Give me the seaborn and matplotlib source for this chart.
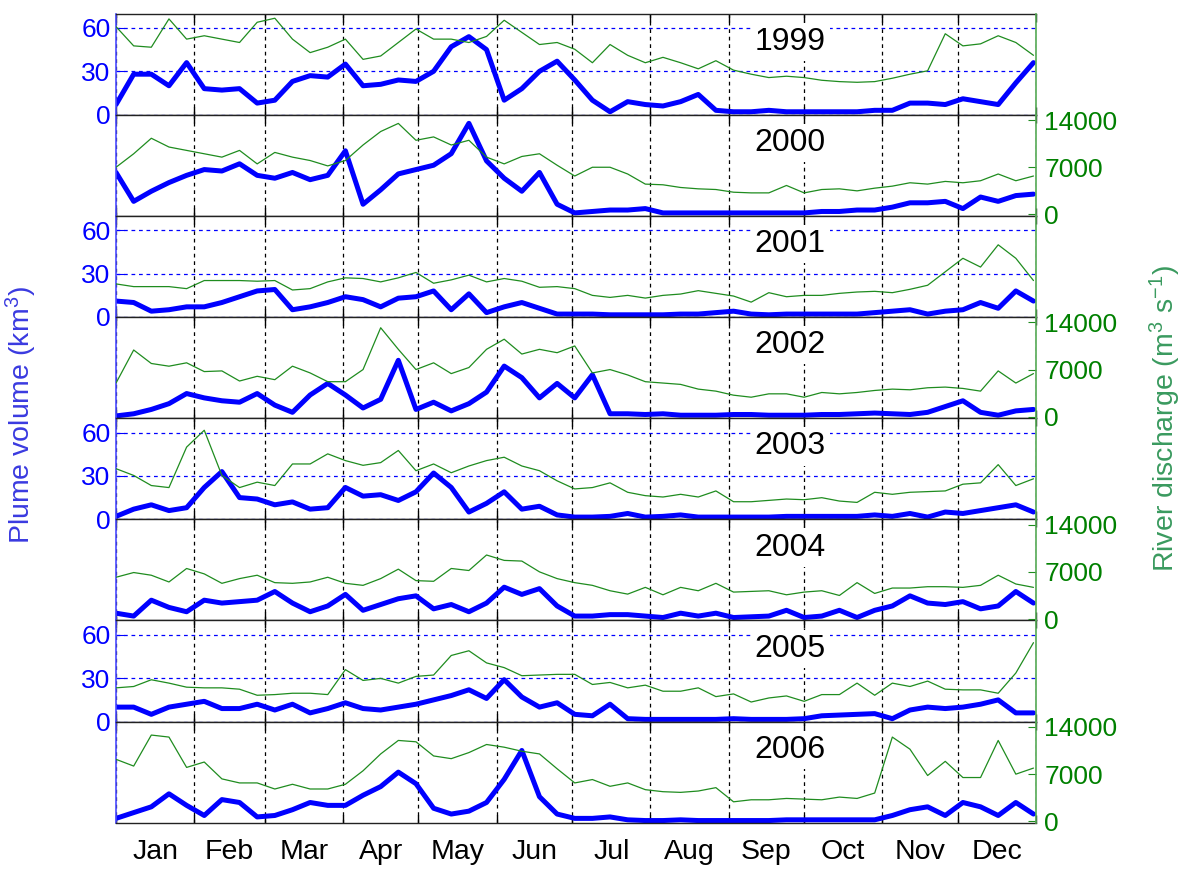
import numpy as np
import pandas as pd
import matplotlib
matplotlib.use("Agg")
import matplotlib.pyplot as plt
import seaborn as sns

# weekly samples, day of year
days = np.arange(0, 365, 7)

years = [1999, 2000, 2001, 2002, 2003, 2004, 2005, 2006]
months = ['Jan', 'Feb', 'Mar', 'Apr', 'May', 'Jun',
          'Jul', 'Aug', 'Sep', 'Oct', 'Nov', 'Dec']
month_start = [0, 31, 59, 90, 120, 151, 181, 212, 243, 273, 304, 334, 365]

# plume volume (km3)
plume_1999 = [7, 28, 28, 20, 36, 18, 17, 18, 8, 10, 23, 27, 26, 35, 20, 21, 24, 23, 30, 47,
              54, 45, 10, 18, 30, 37, 24, 10, 2, 9, 7, 6, 9, 14, 3, 2, 2, 3, 2, 2,
              2, 2, 2, 3, 3, 8, 8, 7, 11, 9, 7, 22, 36]
plume_2000 = [30, 10, 17, 23, 28, 32, 31, 36, 28, 26, 30, 25, 28, 45, 8, 18, 29, 32, 35, 43,
              64, 38, 26, 17, 30, 8, 2, 3, 4, 4, 5, 2, 2, 2, 2, 2, 2, 2, 2, 2,
              3, 3, 4, 4, 6, 9, 9, 10, 5, 13, 10, 14, 15]
plume_2001 = [11, 10, 4, 5, 7, 7, 10, 14, 18, 19, 5, 7, 10, 14, 12, 7, 13, 14, 18, 5,
              16, 3, 7, 10, 6, 2, 2, 2, 1.5, 1.5, 1.5, 1.5, 2, 2, 3, 4, 2, 1.5, 2, 2,
              2, 2, 2, 3, 4, 5, 2, 4, 5, 10, 6, 18, 11]
plume_2002 = [1.5, 3, 6, 10, 17, 14, 12, 11, 17, 9, 4, 16, 24, 16, 7, 13, 40, 6, 11, 5,
              10, 18, 36, 28, 14, 24, 14, 30, 3, 3, 2.5, 3, 2, 2, 2, 2.5, 2.5, 2, 2, 2,
              2.5, 2.5, 3, 3.5, 3, 2.5, 4, 8, 12, 4, 2, 5, 6]
plume_2003 = [2, 7, 10, 6, 8, 22, 33, 15, 14, 10, 12, 7, 8, 22, 16, 17, 13, 19, 32, 22,
              5, 11, 19, 7, 9, 3, 1.5, 1.5, 2, 4, 1.5, 2, 3, 1.5, 1.5, 1.5, 1.5, 1.5, 2, 2,
              2, 2, 2, 3, 2, 4, 1.5, 5, 4, 6, 8, 10, 5]
plume_2004 = [5, 3, 14, 9, 6, 14, 12, 13, 14, 20, 12, 6, 10, 18, 7, 11, 15, 17, 8, 11,
              6, 12, 23, 18, 22, 10, 3, 3, 4, 4, 3, 2, 5, 3, 5, 2, 2.5, 3, 7, 2,
              3, 7, 2, 7, 10, 17, 12, 11, 13, 8, 10, 20, 12]
plume_2005 = [10, 10, 5, 10, 12, 14, 9, 9, 12, 8, 12, 6, 9, 13, 9, 8, 10, 12, 15, 18,
              22, 16, 29, 17, 10, 13, 5, 4, 12, 2, 1.5, 1.5, 1.5, 1.5, 1.5, 2, 1.5, 1.5, 1.5, 2,
              4, 4.5, 5, 5.5, 2, 8, 10, 9, 10, 12, 15, 6, 6]
plume_2006 = [3, 7, 11, 20, 12, 5, 16, 14, 4, 5, 9, 14, 12, 12, 19, 25, 35, 27, 10, 6,
              8, 14, 30, 50, 18, 6, 3, 3, 4, 2, 1.5, 1.5, 2, 1.5, 1.5, 1.5, 1.5, 1.5, 2, 2,
              2, 2, 2, 2, 5, 9, 11, 5, 14, 11, 5, 14, 6]

# river discharge (m3/s)
flow_1999 = [12850, 10000, 9800, 14000, 11000, 11500, 11000, 10500, 13500, 14100,
             11000, 9000, 9800, 11000, 8000, 8500, 10500, 12500, 11000, 11000,
             10500, 11400, 13800, 12000, 10200, 10500, 9500, 7500, 10200, 8600,
             7500, 8300, 7500, 6600, 7800, 6400, 5800, 5300, 5500, 5300,
             4900, 4700, 4600, 4700, 5200, 5800, 6300, 11800, 10000, 10300,
             11500, 10500, 8600]
flow_2000 = [7000, 9000, 11300, 10000, 9500, 9000, 8500, 9500, 7500, 9200,
             8500, 8000, 7200, 8000, 10300, 12300, 13500, 11000, 11500, 10300,
             11000, 8500, 7500, 8600, 9000, 7300, 5700, 7000, 7000, 6000,
             4500, 4400, 4000, 3800, 3700, 3300, 3200, 3200, 4300, 3200,
             3700, 3800, 3500, 3900, 4200, 4700, 4500, 4900, 4700, 5000,
             6000, 5000, 5700]
flow_2001 = [4700, 4300, 4300, 4300, 4000, 5200, 5200, 5200, 5100, 5200,
             3800, 4000, 5000, 5600, 5500, 5000, 5600, 6400, 4800, 5300,
             6000, 5000, 5500, 5100, 4200, 4300, 4000, 3000, 2700, 3000,
             2600, 3000, 3200, 3700, 3300, 2900, 2000, 3400, 2800, 3000,
             3000, 3300, 3500, 3600, 3400, 3900, 4500, 6500, 8500, 7200,
             10500, 8500, 5200]
flow_2002 = [5000, 9900, 7900, 7500, 8000, 6700, 6800, 5300, 6000, 5500,
             7500, 6500, 5200, 5200, 7000, 13200, 10000, 7000, 8000, 6400,
             7300, 10000, 11500, 9300, 10000, 9500, 10500, 6500, 7000, 6200,
             5200, 5000, 4800, 4100, 3800, 3200, 2900, 3400, 3400, 2900,
             3600, 3400, 3600, 3900, 4100, 4000, 4300, 4400, 4200, 3800,
             6800, 5000, 6400]
flow_2003 = [7300, 6300, 4800, 4500, 10500, 13000, 6300, 4500, 5300, 4800,
             8000, 8000, 9500, 8500, 7800, 8200, 10000, 7000, 8000, 6700,
             7700, 8500, 9000, 7700, 7000, 5500, 4300, 4500, 5200, 3800,
             3300, 3100, 3500, 3100, 4000, 2400, 2400, 2600, 2800, 2700,
             3000, 2500, 2300, 3800, 3500, 3800, 3900, 4000, 5000, 5200,
             7900, 4800, 5800]
flow_2004 = [6200, 6900, 6500, 5500, 7500, 6700, 5300, 6000, 6500, 5400,
             5300, 5500, 6200, 5300, 5000, 6000, 7400, 5700, 5600, 7500,
             7200, 9500, 8700, 8600, 7000, 6000, 5400, 5000, 4200, 3700,
             4700, 3600, 4700, 4200, 5300, 4000, 4100, 4200, 3600, 4000,
             4200, 3500, 5400, 3800, 4600, 4600, 4800, 4800, 4700, 5000,
             6500, 5200, 4700]
flow_2005 = [4800, 5000, 6000, 5500, 4900, 4800, 4800, 4600, 3700, 3800,
             4000, 4000, 3800, 7500, 5900, 6200, 5500, 6500, 6700, 9600,
             10300, 8500, 7800, 6600, 6700, 6800, 6800, 5300, 5600, 4800,
             5200, 4300, 4300, 4800, 3500, 3900, 2700, 3300, 3600, 2800,
             3800, 3800, 5500, 3700, 5500, 5000, 5800, 4600, 4500, 4500,
             4000, 7000, 11500]
flow_2006 = [9200, 8200, 12800, 12500, 8000, 8800, 6300, 5700, 5700, 4800,
             5500, 4800, 4800, 5500, 7500, 10000, 12000, 11800, 9700, 9300,
             10200, 11400, 11000, 10400, 10000, 7800, 5700, 6200, 5200, 5700,
             4700, 4400, 4300, 4500, 5000, 2900, 3200, 3200, 3400, 3300,
             3200, 3600, 3400, 4200, 12500, 10700, 6800, 8900, 6500, 6500,
             12000, 7000, 7900]

plume = dict(zip(years, [plume_1999, plume_2000, plume_2001, plume_2002,
                         plume_2003, plume_2004, plume_2005, plume_2006]))
flow = dict(zip(years, [flow_1999, flow_2000, flow_2001, flow_2002,
                        flow_2003, flow_2004, flow_2005, flow_2006]))

sns.set_style("white")
plt.rcParams['font.family'] = ['Liberation Sans', 'DejaVu Sans']
plt.rcParams['mathtext.fontset'] = 'custom'
plt.rcParams['mathtext.rm'] = 'Liberation Sans'
plt.rcParams['mathtext.it'] = 'Liberation Sans:italic'
plt.rcParams['text.color'] = 'black'
plt.rcParams['xtick.color'] = 'black'
plt.rcParams['xtick.labelcolor'] = 'black'

BLUE = '#0000ff'
GREEN = '#1f8c1f'
dash = (0, (3, 3))

fig, axes = plt.subplots(len(years), 1, figsize=(11.84, 8.77), dpi=100)
fig.subplots_adjust(left=0.098, right=0.875, top=0.9846, bottom=0.0619, hspace=0)

mids = [(a + b) / 2 for a, b in zip(month_start[:-1], month_start[1:])]

for i, (ax, yr) in enumerate(zip(axes, years)):
    df = pd.DataFrame({'day': days, 'plume': plume[yr], 'flow': flow[yr]})
    ax2 = ax.twinx()
    sns.lineplot(data=df, x='day', y='plume', ax=ax, color=BLUE, linewidth=3.6)
    sns.lineplot(data=df, x='day', y='flow', ax=ax2, color=GREEN, linewidth=0.9)

    ax.set_xlim(0, 365)
    ax.set_ylim(0, 70)
    ax2.set_ylim(-200, 14800)
    ax.set_xlabel('')
    ax.set_ylabel('')
    ax2.set_ylabel('')

    # month boundaries: dashed lines + inward ticks top and bottom
    ax.set_xticks(month_start)
    ax.set_xticklabels([])
    ax.tick_params(axis='x', which='major', direction='in', length=6, width=1,
                   top=True, bottom=True, color='k')
    ax.grid(True, axis='x', color='k', linestyle=dash, linewidth=0.9)

    if i % 2 == 0:
        ax.set_yticks([0, 30, 60])
        ax.grid(True, axis='y', color=BLUE, linestyle=dash, linewidth=0.9)
        ax2.set_yticks([])
    else:
        ax.set_yticks([])
        ax2.set_yticks([0, 7000, 14000])
    ax.tick_params(axis='y', direction='in', length=6, color=BLUE,
                   labelcolor=BLUE, labelsize=19, pad=4)
    ax2.tick_params(axis='y', direction='in', length=6, color=GREEN,
                    labelcolor='#008000', labelsize=19, pad=6)

    ax.spines['left'].set_color('#4a4aff')
    ax.spines['left'].set_linewidth(1.2)
    ax.spines['right'].set_visible(False)
    for s in ['top', 'bottom']:
        ax.spines[s].set_color('#222222')
        ax.spines[s].set_linewidth(1)
        ax2.spines[s].set_visible(False)
    ax2.spines['left'].set_visible(False)
    ax2.spines['right'].set_color('#55aa55')
    ax2.spines['right'].set_linewidth(1.2)

    ax2.text(0.733, 0.72, str(yr), transform=ax.transAxes, ha='center',
             va='center', fontsize=23, color='black', zorder=10,
             bbox=dict(facecolor='white', edgecolor='none', pad=3))

    if i == len(years) - 1:
        ax.set_xticks(mids, minor=True)
        ax.set_xticklabels(months, minor=True, fontsize=20.5, color='black')
        ax.tick_params(axis='x', which='minor', length=0, pad=12)

fig.text(0.018, 0.527, r'Plume volume (km$^3$)', rotation=90, color='#3a3ae0',
         fontsize=20.5, ha='center', va='center')
fig.text(0.984, 0.523, r'River discharge (m$^3$ s$^{-1}$)', rotation=90,
         color='#3a9a5f', fontsize=20.5, ha='center', va='center')

fig.savefig('out.png', dpi=100)
